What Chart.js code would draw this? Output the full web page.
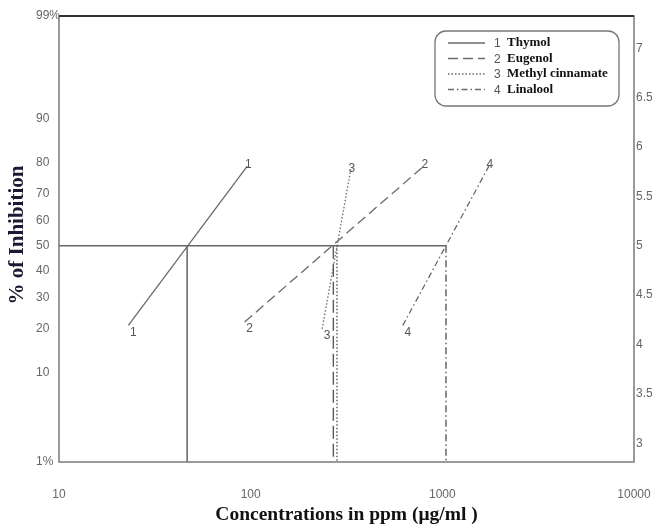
<!DOCTYPE html>
<html lang="en">
<head>
<meta charset="UTF-8">
<title>% of Inhibition vs concentration</title>
<script src="https://cdn.jsdelivr.net/npm/chart.js@4.4.1/dist/chart.umd.min.js"></script>
<style>
  html, body { margin: 0; padding: 0; background: #fff; overflow: hidden; }
  .wrap { width: 652px; height: 527px; overflow: hidden; }
  canvas { display: block; }
</style>
</head>
<body>
<div class="wrap"><canvas id="chart" width="652" height="527"></canvas></div>
<script>
// values
const compounds = ['Thymol', 'Eugenol', 'Methyl cinnamate', 'Linalool'];
const concLow = [23, 93, 236, 622];        // ppm at lower end of each line
const concHigh = [96, 800, 333, 1750];     // ppm at upper end
const pctLow = [21, 22, 20, 21];           // % inhibition at lower end
const pctHigh = [79, 79, 78, 79];          // % inhibition at upper end
const lc50 = [46.6, 270, 282, 1045];       // ppm at 50 %
const xTicks = [10, 100, 1000, 10000];
const pctTicks = [1, 10, 20, 30, 40, 50, 60, 70, 80, 90, 99];
const probitTicks = [3, 3.5, 4, 4.5, 5, 5.5, 6, 6.5, 7];

const lineDash = [[], [10, 5], [1.5, 2], [6, 3, 1.5, 3]];
const dropDash = [[], [13, 5], [1.5, 2], [7, 3, 1.5, 3]];
const GREY = '#6a6a6a';

// inverse normal (Acklam) -> probit = z + 5
function probit(pct) {
  const q = pct / 100;
  const a = [-39.69683028665376, 220.9460984245205, -275.9285104469687, 138.3577518672690, -30.66479806614716, 2.506628277459239];
  const b = [-54.47609879822406, 161.5858368580409, -155.6989798598866, 66.80131188771972, -13.28068155288572];
  const c = [-0.007784894002430293, -0.3223964580411365, -2.400758277161838, -2.549732539343734, 4.374664141464968, 2.938163982698783];
  const d = [0.007784695709041462, 0.3224671290700398, 2.445134137142996, 3.754408661907416];
  const lo = 0.02425;
  let z;
  if (q < lo) {
    const r = Math.sqrt(-2 * Math.log(q));
    z = (((((c[0]*r+c[1])*r+c[2])*r+c[3])*r+c[4])*r+c[5]) / ((((d[0]*r+d[1])*r+d[2])*r+d[3])*r+1);
  } else if (q > 1 - lo) {
    const r = Math.sqrt(-2 * Math.log(1 - q));
    z = -(((((c[0]*r+c[1])*r+c[2])*r+c[3])*r+c[4])*r+c[5]) / ((((d[0]*r+d[1])*r+d[2])*r+d[3])*r+1);
  } else {
    const r = q - 0.5, s = r * r;
    z = (((((a[0]*s+a[1])*s+a[2])*s+a[3])*s+a[4])*s+a[5])*r / (((((b[0]*s+b[1])*s+b[2])*s+b[3])*s+b[4])*s+1);
  }
  return z + 5;
}

const Y_MAX = probit(99);
const Y_MIN = 2.81;   // bottom of the plot, labelled "1%"

const datasets = [];
compounds.forEach((name, i) => {
  datasets.push({
    label: name,
    data: [{ x: concLow[i], y: probit(pctLow[i]) }, { x: concHigh[i], y: probit(pctHigh[i]) }],
    borderColor: GREY, borderWidth: 1.3, borderDash: lineDash[i],
    pointRadius: 0, fill: false
  });
});
// 50 % line
datasets.push({
  label: '50%',
  data: [{ x: xTicks[0], y: probit(50) }, { x: lc50[3], y: probit(50) }],
  borderColor: '#666', borderWidth: 1.6, pointRadius: 0
});
// drop lines to the concentration axis
compounds.forEach((name, i) => {
  datasets.push({
    label: name + ' LC50',
    data: [{ x: lc50[i], y: probit(50) }, { x: lc50[i], y: Y_MIN }],
    borderColor: '#5a5a5a', borderWidth: 1.4, borderDash: dropDash[i], pointRadius: 0
  });
});

const endLabels = {
  id: 'endLabels',
  afterDatasetsDraw(chart) {
    const ctx = chart.ctx;
    ctx.save();
    ctx.font = '12px "Liberation Sans", Arial, sans-serif';
    ctx.fillStyle = '#555';
    ctx.textAlign = 'center';
    ctx.textBaseline = 'middle';
    compounds.forEach((n, i) => {
      const pts = chart.getDatasetMeta(i).data;
      ctx.fillText(String(i + 1), pts[0].x + 5, pts[0].y + 7);
      ctx.fillText(String(i + 1), pts[1].x + 1, pts[1].y - 1);
    });
    ctx.restore();
  }
};

const frame = {
  id: 'frame',
  afterDraw(chart) {
    const { ctx, chartArea: a } = chart;
    ctx.save();
    ctx.strokeStyle = '#7a7a7a';
    ctx.lineWidth = 1.5;
    ctx.strokeRect(a.left, a.top, a.right - a.left, a.bottom - a.top);
    ctx.strokeStyle = '#333';
    ctx.lineWidth = 2;
    ctx.beginPath();
    ctx.moveTo(a.left, a.top);
    ctx.lineTo(a.right, a.top);
    ctx.stroke();

    // y axis title
    ctx.translate(18, (a.top + a.bottom) / 2 - 4);
    ctx.rotate(-Math.PI / 2);
    ctx.font = 'bold 21px "Liberation Serif", "Times New Roman", serif';
    ctx.fillStyle = '#1a1a33';
    ctx.textAlign = 'center';
    ctx.textBaseline = 'middle';
    ctx.fillText('% of Inhibition', 0, 0);
    ctx.restore();
  }
};

const probitLegend = {
  id: 'probitLegend',
  afterDraw(chart) {
    const ctx = chart.ctx;
    const bx = 435, by = 31, bw = 184, bh = 75, r = 11;
    ctx.save();
    ctx.fillStyle = '#fff';
    ctx.strokeStyle = '#777';
    ctx.lineWidth = 1.3;
    ctx.beginPath();
    ctx.roundRect(bx, by, bw, bh, r);
    ctx.fill();
    ctx.stroke();
    compounds.forEach((name, i) => {
      const y = 43 + i * 15.5;
      ctx.strokeStyle = GREY;
      ctx.lineWidth = 1.3;
      ctx.setLineDash(lineDash[i]);
      ctx.beginPath();
      ctx.moveTo(448, y);
      ctx.lineTo(485, y);
      ctx.stroke();
      ctx.setLineDash([]);
      ctx.textBaseline = 'middle';
      ctx.textAlign = 'left';
      ctx.font = '12px "Liberation Sans", Arial, sans-serif';
      ctx.fillStyle = '#555';
      ctx.fillText(String(i + 1), 494, y + 1);
      ctx.font = 'bold 13px "Liberation Serif", "Times New Roman", serif';
      ctx.fillStyle = '#111';
      ctx.fillText(name, 507, y);
    });
    ctx.restore();
  }
};

Chart.defaults.font.family = '"Liberation Sans", Arial, sans-serif';
Chart.defaults.font.size = 12;
Chart.defaults.color = '#666';

new Chart(document.getElementById('chart'), {
  type: 'line',
  data: { datasets },
  options: {
    responsive: false,
    animation: false,
    layout: { autoPadding: false, padding: { top: 16, left: 36, right: 0, bottom: 0 } },
    plugins: { legend: { display: false }, tooltip: { enabled: false } },
    scales: {
      x: {
        type: 'logarithmic',
        min: xTicks[0], max: xTicks[xTicks.length - 1],
        // grid hidden, tick length only used as the gap under the axis
        grid: { display: false, drawTicks: true, tickLength: 25 },
        border: { display: false },
        afterBuildTicks: s => { s.ticks = xTicks.map(v => ({ value: v })); },
        afterFit: s => { s.height = 65; },
        ticks: { padding: 0, maxRotation: 0, callback: v => String(v) },
        title: {
          display: true,
          text: 'Concentrations in ppm (μg/ml )',
          color: '#111',
          font: { family: '"Liberation Serif", "Times New Roman", serif', weight: 'bold', size: 19.5 },
          padding: { top: 0, bottom: 0 }
        }
      },
      y: {
        type: 'linear', position: 'left',
        min: Y_MIN, max: Y_MAX,
        grid: { display: false, drawTicks: false },
        border: { display: false },
        afterBuildTicks: s => {
          s.ticks = pctTicks.map(p => ({ value: Math.max(probit(p), Y_MIN) }));
        },
        afterFit: s => { s.width = 23; },
        ticks: {
          crossAlign: 'far', padding: 0,
          callback: (v, idx) => {
            const p = pctTicks[idx];
            return (p === 1 || p === 99) ? p + '%' : String(p);
          }
        }
      },
      y2: {
        type: 'linear', position: 'right',
        min: Y_MIN, max: Y_MAX,
        grid: { display: false, drawTicks: false },
        border: { display: false },
        afterBuildTicks: s => { s.ticks = probitTicks.map(v => ({ value: v })); },
        afterFit: s => { s.width = 18; },
        ticks: { crossAlign: 'near', padding: 2, callback: v => String(v) }
      }
    }
  },
  plugins: [endLabels, frame, probitLegend]
});
</script>
</body>
</html>
